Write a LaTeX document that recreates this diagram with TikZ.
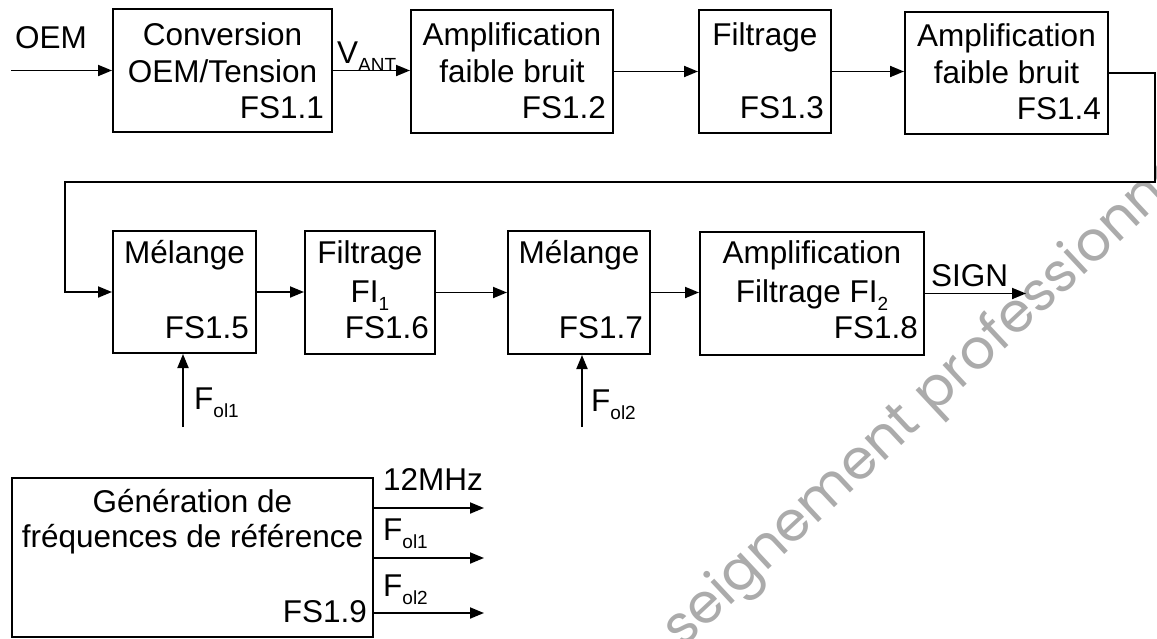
\documentclass[tikz,border=0pt]{standalone}
\usepackage{fontspec}
\setmainfont{Liberation Sans}
\newfontfamily\wmfont{Poppins}
\usetikzlibrary{arrows.meta}
\newcommand\lsub[1]{\raisebox{-0.28em}{\fontsize{19}{19}\selectfont #1}}
\newcommand\blkbox[5]{\node[blk,minimum width={#4-#2},minimum height={#5-#3}] (#1) at ({(#2+#4)/2},{(#3+#5)/2}) {};}
\begin{document}
\begin{tikzpicture}[x=1pt,y=-1pt,
  blk/.style={draw,line width=2pt,inner sep=0pt,fill=none},
  txt/.style={inner sep=0pt,font=\fontsize{31.5}{36}\selectfont,anchor=base},
  rtxt/.style={txt,anchor=base east},
  ltxt/.style={txt,anchor=base west},
  arr/.style={line width=1.9pt,-{Triangle[length=14pt,width=11pt]}},
  wm/.style={inner sep=0pt,font=\wmfont\fontsize{55}{55}\selectfont,text=black!33}
]
\useasboundingbox (0,0) rectangle (1157,638);
% watermark
\begin{scope}
\clip (0,0) rectangle (1157,638);
\node[wm,rotate=43,anchor=base west] (wm) at (682,650) {seignement professionnel};
\end{scope}
% boxes
\blkbox{b1}{113}{9}{332}{132}
\blkbox{b2}{411}{10}{613}{133}
\blkbox{b3}{699}{10}{831}{133}
\blkbox{b4}{905}{12}{1108}{134}
\blkbox{b5}{113}{231}{256}{353}
\blkbox{b6}{305}{231}{435}{354}
\blkbox{b7}{508}{231}{650}{354}
\blkbox{b8}{700}{232}{924}{355}
\blkbox{b9}{12}{478}{373}{637}
% box texts
\node[txt] (t1a) at (222.5,45) {Conversion};
\node[txt] (t1b) at (222.5,82) {OEM/Tension};
\node[rtxt] (t1c) at (324,118) {FS1.1};
\node[txt] (t2a) at (512,45) {Amplification};
\node[txt] (t2b) at (512,82) {faible bruit};
\node[rtxt] (t2c) at (606,118) {FS1.2};
\node[txt] (t3a) at (765,45) {Filtrage};
\node[rtxt] (t3c) at (824,118) {FS1.3};
\node[txt] (t4a) at (1006.5,46) {Amplification};
\node[txt] (t4b) at (1006.5,83) {faible bruit};
\node[rtxt] (t4c) at (1101,119) {FS1.4};
\node[txt] (t5a) at (184.5,263) {M\'elange};
\node[rtxt] (t5c) at (249,338) {FS1.5};
\node[txt] (t6a) at (370,263) {Filtrage};
\node[txt] (t6b) at (370,302) {FI\lsub{1}};
\node[rtxt] (t6c) at (429,338) {FS1.6};
\node[txt] (t7a) at (579,263) {M\'elange};
\node[rtxt] (t7c) at (643,338) {FS1.7};
\node[txt] (t8a) at (812,263) {Amplification};
\node[txt] (t8b) at (812,302) {Filtrage FI\lsub{2}};
\node[rtxt] (t8c) at (918,338) {FS1.8};
\node[txt] (t9a) at (192.5,512) {G\'en\'eration de};
\node[txt] (t9b) at (192.5,547) {fr\'equences de r\'ef\'erence};
\node[rtxt] (t9c) at (367,622) {FS1.9};
% connectors top row
\coordinate (oem) at (11,70.5);
\draw[arr] (oem) -- (b1.west);
\node[ltxt] (loem) at (15,48) {OEM};
\draw[arr] (b1.east) -- (b2.west |- b1.east);
\node[ltxt] (lvant) at (337,63) {V\lsub{ANT}};
\draw[arr] (b2.east) -- (b3.west);
\draw[arr] (b3.east) -- (b4.west |- b3.east);
% loop to second row
\coordinate (c1) at (1155,182);
\coordinate (c2) at (65,182);
\draw[arr] (b4.east) -| (c1) -- (c2) |- (b5.west);
% second row
\draw[arr] (b5.east) -- (b6.west |- b5.east);
\draw[arr] (b6.east) -- (b7.west);
\draw[arr] (b7.east) -- (b8.west |- b7.east);
\coordinate (sign) at (1026,293.5);
\draw[arr] (b8.east) -- (sign);
\node[ltxt] (lsign) at (931,286) {SIGN};
% local oscillators
\coordinate (f1) at (183,427);
\draw[arr] (f1) -- (f1 |- b5.south);
\node[ltxt] (lf1) at (194,409) {F\lsub{ol1}};
\coordinate (f2) at (582,427);
\draw[arr] (f2) -- (f2 |- b7.south);
\node[ltxt] (lf2) at (591,411) {F\lsub{ol2}};
% reference generator outputs
\coordinate (o1) at (484,508);
\coordinate (o2) at (484,558);
\coordinate (o3) at (484,613);
\draw[arr] (b9.east |- o1) -- (o1);
\draw[arr] (b9.east |- o2) -- (o2);
\draw[arr] (b9.east |- o3) -- (o3);
\node[ltxt] (l12) at (383,490) {12MHz};
\node[ltxt] (lo1) at (383,540) {F\lsub{ol1}};
\node[ltxt] (lo2) at (383,596) {F\lsub{ol2}};
\end{tikzpicture}
\end{document}
